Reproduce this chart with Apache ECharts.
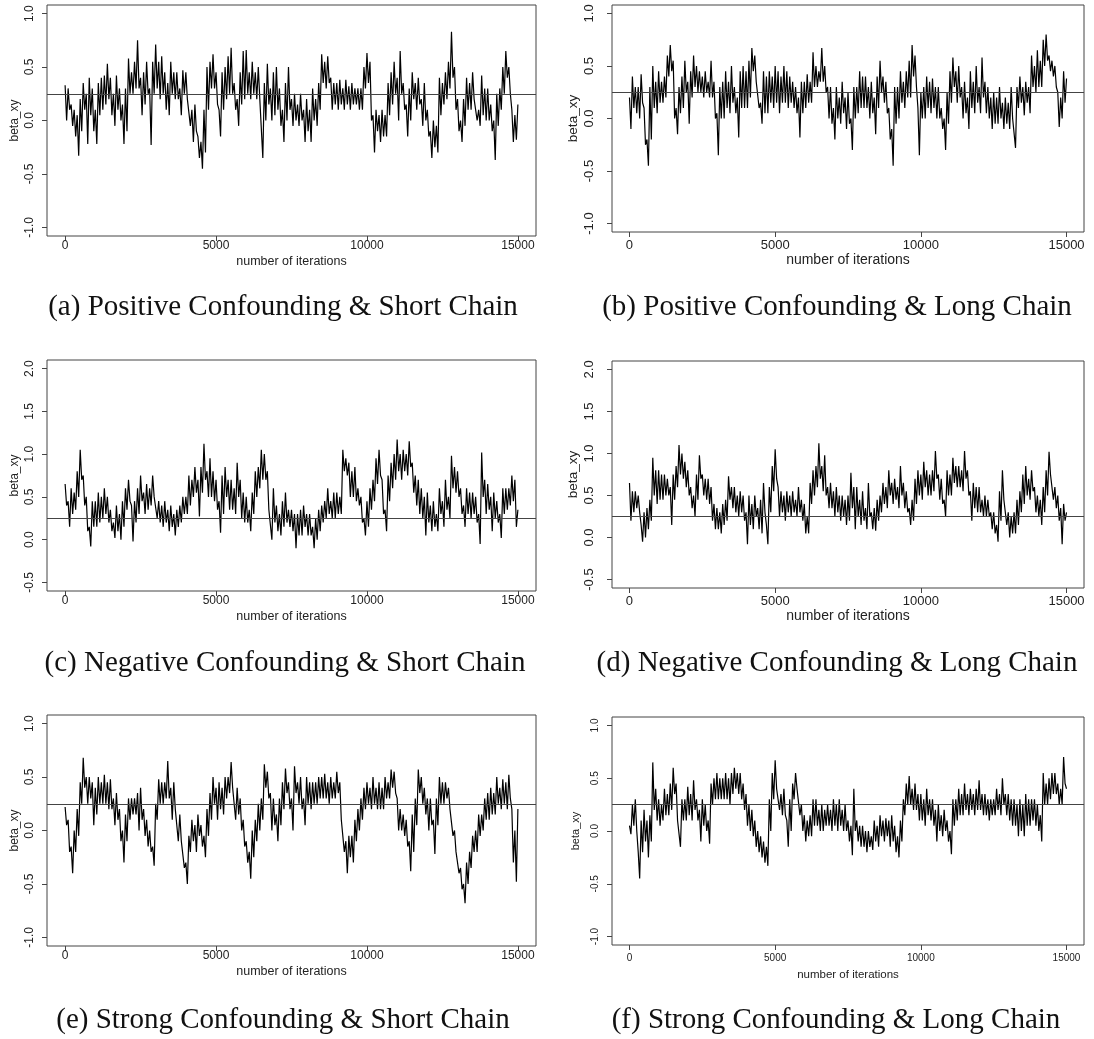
<!DOCTYPE html>
<html>
<head>
<meta charset="utf-8">
<title>beta_xy trace plots</title>
<script src="https://cdn.jsdelivr.net/npm/echarts@6/dist/echarts.min.js"></script>
<style>
  html, body { margin: 0; padding: 0; background: #fff; }
  #chart { width: 1094px; height: 1039px; }
</style>
</head>
<body>
<div id="chart"></div>
<script>
// each trace is stored as the top (hi) and bottom (lo) of the chain
// inside consecutive windows of STEP iterations
const STEP = 100
const xTicks = [0, 5000, 10000, 15000]
const yTicksNarrow = [-1, -0.5, 0, 0.5, 1]
const yTicksWide = [-0.5, 0, 0.5, 1, 1.5, 2]
const trueBeta = 0.25

const captions = [
  '(a) Positive Confounding & Short Chain',
  '(b) Positive Confounding & Long Chain',
  '(c) Negative Confounding & Short Chain',
  '(d) Negative Confounding & Long Chain',
  '(e) Strong Confounding & Short Chain',
  '(f) Strong Confounding & Long Chain'
]

// value at iteration 15000
const lastValues = [0.15, 0.38, 0.35, 0.3, 0.2, 0.4]

const hiA = [
  0.33, 0.3, 0.15, 0.1, 0.05, 0.2, 0.35, 0.25, 0.4, 0.3,
  0.1, 0.35, 0.4, 0.42, 0.53, 0.4, 0.25, 0.42, 0.3, 0.15,
  0.3, 0.58, 0.45, 0.55, 0.75, 0.4, 0.45, 0.55, 0.3, 0.55,
  0.71, 0.55, 0.6, 0.45, 0.35, 0.55, 0.45, 0.45, 0.3, 0.47,
  0.45, 0.2, 0.1, 0.15, -0.15, -0.2, 0.1, 0.5, 0.55, 0.62,
  0.45, 0.1, 0.45, 0.5, 0.6, 0.68, 0.35, 0.2, 0.45, 0.65,
  0.66, 0.45, 0.55, 0.45, 0.5, 0.2, 0.35, 0.53, 0.3, 0.45,
  0.5, 0.3, 0.1, 0.35, 0.5, 0.2, 0.25, 0.15, 0.25, 0.1,
  0.2, 0.1, 0.3, 0.2, 0.35, 0.62, 0.55, 0.6, 0.4, 0.35,
  0.35, 0.38, 0.3, 0.38, 0.32, 0.35, 0.3, 0.3, 0.3, 0.5,
  0.63, 0.55, 0.05, 0.1, 0.05, 0.1, 0.05, 0.35, 0.45, 0.55,
  0.4, 0.65, 0.35, 0.15, 0.3, 0.45, 0.35, 0.4, 0.2, 0.35,
  0.1, -0.1, 0.0, -0.05, 0.4, 0.35, 0.45, 0.55, 0.83, 0.5,
  0.2, 0.0, 0.2, 0.4, 0.35, 0.45, 0.2, 0.1, 0.42, 0.3,
  0.3, 0.15, 0.0, 0.25, 0.3, 0.5, 0.65, 0.5, 0.1, 0.05
]
const loA = [
  0.0, 0.1, -0.05, -0.15, -0.33, -0.1, 0.1, -0.22, 0.05, -0.1,
  -0.22, 0.05, 0.1, 0.15, 0.2, 0.05, -0.05, 0.1, 0.0, -0.22,
  -0.1, 0.25, 0.25, 0.3, 0.3, 0.05, 0.15, 0.25, -0.23, 0.25,
  0.3, 0.2, 0.25, 0.1, 0.05, 0.25, 0.2, 0.2, 0.05, 0.25,
  0.2, -0.05, -0.2, -0.1, -0.35, -0.45, -0.3, 0.1, 0.3, 0.3,
  0.15, -0.15, 0.1, 0.2, 0.25, 0.25, 0.1, -0.05, 0.15, 0.2,
  0.25, 0.2, 0.25, 0.2, 0.2, -0.35, 0.0, 0.15, 0.0, 0.05,
  0.1, -0.05, -0.2, 0.0, 0.1, -0.05, 0.0, -0.05, 0.0, -0.2,
  -0.1, -0.2, 0.0, -0.05, 0.1, 0.35, 0.3, 0.35, 0.1, 0.15,
  0.1, 0.15, 0.1, 0.15, 0.1, 0.15, 0.15, 0.1, 0.1, 0.3,
  0.35, 0.0, -0.3, -0.1, -0.2, -0.15, -0.15, 0.05, 0.15, 0.25,
  0.0, 0.25, 0.1, -0.15, 0.0, 0.2, 0.1, 0.15, -0.05, 0.0,
  -0.15, -0.35, -0.25, -0.3, 0.05, 0.15, 0.2, 0.3, 0.4, 0.1,
  -0.1, -0.2, -0.05, 0.1, 0.1, 0.2, 0.0, -0.05, 0.05, 0.0,
  0.0, -0.1, -0.37, -0.05, 0.1, 0.25, 0.4, 0.25, -0.2, -0.18
]

const hiB = [
  0.2, 0.4, 0.3, 0.3, 0.42, 0.1, -0.2, 0.3, 0.5, 0.35,
  0.45, 0.35, 0.4, 0.6, 0.7, 0.55, 0.1, 0.3, 0.4, 0.55,
  0.35, 0.45, 0.6, 0.5, 0.45, 0.4, 0.45, 0.35, 0.55, 0.35,
  0.05, 0.3, 0.35, 0.45, 0.35, 0.5, 0.3, 0.2, 0.45, 0.5,
  0.45, 0.55, 0.67, 0.6, 0.35, 0.15, 0.45, 0.4, 0.45, 0.4,
  0.5, 0.45, 0.4, 0.5, 0.45, 0.4, 0.35, 0.3, 0.2, 0.35,
  0.35, 0.42, 0.35, 0.63, 0.5, 0.45, 0.67, 0.5, 0.3, 0.3,
  0.1, 0.3, 0.2, 0.35, 0.2, 0.25, 0.0, 0.3, 0.3, 0.45,
  0.4, 0.4, 0.3, 0.35, 0.2, 0.4, 0.55, 0.4, 0.35, 0.1,
  -0.1, 0.3, 0.3, 0.45, 0.35, 0.45, 0.55, 0.7, 0.6, 0.1,
  0.25, 0.3, 0.4, 0.35, 0.38, 0.3, 0.3, 0.1, 0.0, 0.25,
  0.45, 0.58, 0.45, 0.5, 0.3, 0.35, 0.2, 0.45, 0.35, 0.5,
  0.3, 0.58, 0.35, 0.3, 0.2, 0.25, 0.2, 0.3, 0.15, 0.2,
  0.15, 0.3, 0.0, 0.3, 0.4, 0.3, 0.35, 0.3, 0.6, 0.5,
  0.65, 0.55, 0.75, 0.8, 0.6, 0.55, 0.5, 0.25, 0.2, 0.45
]
const loB = [
  -0.1, 0.1, 0.05, 0.0, 0.15, -0.25, -0.45, -0.2, 0.1, 0.05,
  0.15, 0.15, 0.2, 0.4, 0.45, 0.0, -0.15, 0.05, 0.1, 0.25,
  -0.05, 0.2, 0.3, 0.25, 0.25, 0.2, 0.25, 0.2, 0.2, 0.0,
  -0.35, 0.0, 0.0, 0.1, 0.05, 0.15, 0.05, -0.18, 0.1, 0.1,
  0.1, 0.2, 0.45, 0.35, 0.1, -0.05, 0.05, 0.05, 0.15, 0.1,
  0.15, 0.05, 0.15, 0.15, 0.1, 0.15, 0.1, 0.05, -0.18, 0.05,
  0.1, 0.15, 0.15, 0.3, 0.3, 0.35, 0.35, 0.25, 0.0, -0.05,
  -0.2, 0.0, -0.05, 0.05, -0.1, -0.05, -0.3, 0.0, 0.05, 0.1,
  0.1, 0.1, 0.0, 0.05, -0.15, 0.1, 0.25, 0.15, 0.05, -0.2,
  -0.45, -0.05, 0.0, 0.15, 0.1, 0.2, 0.2, 0.4, 0.3, -0.35,
  0.0, 0.0, 0.1, 0.05, 0.1, 0.0, 0.0, -0.1, -0.3, -0.05,
  0.15, 0.3, 0.15, 0.2, 0.0, 0.05, -0.1, 0.1, 0.05, 0.15,
  0.05, 0.2, 0.05, 0.0, -0.1, -0.05, -0.05, 0.0, -0.1, -0.05,
  -0.1, 0.0, -0.28, 0.1, 0.15, 0.03, 0.15, 0.05, 0.3, 0.25,
  0.3, 0.3, 0.5, 0.55, 0.45, 0.4, 0.3, -0.08, 0.0, 0.15
]

const hiC = [
  0.65, 0.45, 0.6, 0.55, 0.8, 1.05, 0.75, 0.5, 0.15, 0.45,
  0.45, 0.55, 0.5, 0.6, 0.5, 0.35, 0.2, 0.4, 0.3, 0.45,
  0.6, 0.7, 0.4, 0.45, 0.6, 0.75, 0.55, 0.65, 0.6, 0.75,
  0.5, 0.45, 0.4, 0.45, 0.35, 0.4, 0.3, 0.35, 0.4, 0.5,
  0.5, 0.75, 0.7, 0.85, 0.7, 0.85, 1.12, 0.8, 0.95, 0.8,
  0.7, 0.45, 0.75, 0.85, 0.7, 0.7, 0.6, 0.9, 0.7, 0.55,
  0.5, 0.35, 0.55, 0.8, 0.85, 1.05, 1.0, 0.8, 0.35, 0.6,
  0.4, 0.3, 0.45, 0.55, 0.35, 0.35, 0.3, 0.3, 0.35, 0.4,
  0.3, 0.3, 0.15, 0.25, 0.35, 0.4, 0.45, 0.6, 0.45, 0.55,
  0.55, 0.5, 1.05, 0.95, 0.9, 0.8, 0.85, 0.6, 0.5, 0.25,
  0.45, 0.6, 0.7, 0.95, 1.05, 0.7, 0.35, 0.75, 0.9, 1.0,
  1.17, 1.0, 1.05, 1.0, 1.15, 0.9, 0.75, 0.7, 0.6, 0.5,
  0.55, 0.4, 0.45, 0.3, 0.6, 0.45, 0.7, 0.5, 0.98, 0.85,
  0.8, 0.6, 0.4, 0.6, 0.55, 0.55, 0.5, 0.3, 1.02, 0.7,
  0.65, 0.5, 0.55, 0.45, 0.3, 0.6, 0.6, 0.6, 0.75, 0.7
]
const loC = [
  0.4, 0.15, 0.3, 0.35, 0.5, 0.7, 0.4, 0.1, -0.08, 0.15,
  0.15, 0.2, 0.25, 0.3, 0.2, 0.1, 0.02, 0.1, 0.0, 0.15,
  0.35, 0.45, -0.02, 0.2, 0.3, 0.45, 0.3, 0.35, 0.4, 0.5,
  0.25, 0.2, 0.15, 0.2, 0.1, 0.15, 0.05, 0.15, 0.2, 0.3,
  0.3, 0.4, 0.5, 0.55, 0.27, 0.55, 0.7, 0.5, 0.5, 0.45,
  0.35, 0.08, 0.3, 0.5, 0.35, 0.35, 0.3, 0.5, 0.25, 0.2,
  0.2, 0.1, 0.3, 0.5, 0.6, 0.7, 0.7, 0.35, 0.0, 0.2,
  0.1, 0.05, 0.15, 0.2, 0.15, 0.1, -0.1, 0.05, 0.05, 0.15,
  0.05, 0.05, -0.1, 0.0, 0.1, 0.2, 0.25, 0.3, 0.25, 0.25,
  0.3, 0.3, 0.8, 0.75, 0.5, 0.5, 0.45, 0.4, 0.2, 0.05,
  0.15, 0.35, 0.45, 0.65, 0.75, 0.3, 0.1, 0.45, 0.6, 0.7,
  0.8, 0.7, 0.8, 0.75, 0.85, 0.55, 0.4, 0.3, 0.25, 0.05,
  0.2, 0.1, 0.15, 0.1, 0.3, 0.15, 0.35, 0.25, 0.6, 0.55,
  0.5, 0.3, 0.15, 0.3, 0.25, 0.3, 0.2, -0.05, 0.5, 0.3,
  0.35, 0.1, 0.25, 0.2, 0.02, 0.3, 0.35, 0.4, 0.45, 0.15
]

const hiD = [
  0.65, 0.55, 0.55, 0.5, 0.15, 0.3, 0.35, 0.45, 0.95, 0.8,
  0.8, 0.75, 0.75, 0.7, 0.6, 0.75, 0.85, 1.1, 1.0, 0.9,
  0.8, 0.6, 0.5, 0.75, 0.98, 0.75, 0.7, 0.7, 0.6, 0.4,
  0.35, 0.3, 0.4, 0.45, 0.73, 0.6, 0.6, 0.5, 0.55, 0.5,
  0.3, 0.5, 0.4, 0.5, 0.35, 0.45, 0.65, 0.15, 0.6, 0.85,
  1.05, 0.6, 0.55, 0.5, 0.55, 0.5, 0.55, 0.45, 0.6, 0.45,
  0.4, 0.25, 0.65, 0.8, 0.85, 1.12, 0.85, 0.98, 0.6, 0.65,
  0.55, 0.6, 0.5, 0.5, 0.45, 0.5, 0.77, 0.6, 0.6, 0.45,
  0.55, 0.35, 0.65, 0.3, 0.35, 0.45, 0.5, 0.65, 0.6, 0.8,
  0.65, 0.7, 0.6, 0.85, 0.65, 0.55, 0.35, 0.45, 0.7, 0.8,
  0.75, 0.9, 0.8, 0.75, 0.8, 1.03, 0.75, 0.7, 0.45, 0.8,
  0.75, 0.95, 0.85, 0.85, 0.8, 1.03, 0.8, 0.55, 0.65, 0.6,
  0.6, 0.45, 0.5, 0.45, 0.3, 0.3, 0.15, 0.55, 0.8, 0.45,
  0.3, 0.25, 0.3, 0.45, 0.55, 0.75, 0.85, 0.7, 0.8, 0.6,
  0.5, 0.45, 0.6, 0.8, 1.02, 0.75, 0.6, 0.5, 0.35, 0.4
]
const loD = [
  0.2, 0.3, 0.35, 0.3, -0.05, 0.0, 0.1, 0.2, 0.5, 0.4,
  0.45, 0.45, 0.5, 0.5, 0.15, 0.45, 0.6, 0.75, 0.7, 0.6,
  0.5, 0.35, 0.25, 0.45, 0.7, 0.5, 0.45, 0.4, 0.2, 0.1,
  0.1, 0.05, 0.15, 0.2, 0.45, 0.35, 0.3, 0.25, 0.3, 0.2,
  -0.08, 0.15, 0.1, 0.25, 0.1, 0.05, 0.3, -0.08, 0.3, 0.55,
  0.7, 0.25, 0.3, 0.2, 0.3, 0.25, 0.3, 0.25, 0.3, 0.2,
  0.05, 0.05, 0.4, 0.5, 0.6, 0.7, 0.55, 0.5, 0.35, 0.35,
  0.25, 0.3, 0.2, 0.25, 0.15, 0.2, 0.35, 0.1, 0.25, 0.15,
  0.2, 0.1, 0.25, 0.1, 0.08, 0.2, 0.3, 0.4, 0.35, 0.5,
  0.4, 0.45, 0.35, 0.5, 0.35, 0.3, 0.15, 0.2, 0.4, 0.5,
  0.45, 0.6, 0.5, 0.5, 0.55, 0.7, 0.45, 0.4, 0.25, 0.5,
  0.5, 0.65, 0.6, 0.6, 0.55, 0.7, 0.5, 0.2, 0.35, 0.3,
  0.3, 0.25, 0.25, 0.25, 0.1, 0.05, -0.05, 0.2, 0.45, 0.15,
  0.0, 0.05, 0.05, 0.15, 0.3, 0.4, 0.5, 0.45, 0.55, 0.3,
  0.25, 0.15, 0.3, 0.5, 0.75, 0.45, 0.35, 0.2, -0.08, 0.2
]

const hiE = [
  0.22, 0.1, -0.15, 0.0, 0.2, 0.45, 0.68, 0.5, 0.5, 0.45,
  0.4, 0.5, 0.45, 0.52, 0.45, 0.48, 0.3, 0.35, 0.2, 0.0,
  0.15, 0.3, 0.3, 0.3, 0.35, 0.4, 0.2, 0.1, 0.0, -0.15,
  0.25, 0.48, 0.45, 0.45, 0.65, 0.4, 0.45, 0.2, 0.15, -0.1,
  -0.3, -0.05, 0.1, 0.05, 0.15, 0.05, -0.05, 0.2, 0.35, 0.5,
  0.4, 0.45, 0.4, 0.5, 0.5, 0.64, 0.4, 0.4, 0.3, 0.1,
  -0.1, -0.2, 0.0, 0.1, 0.25, 0.3, 0.62, 0.55, 0.35, 0.3,
  0.15, 0.3, 0.45, 0.58, 0.45, 0.3, 0.6, 0.45, 0.5, 0.3,
  0.5, 0.45, 0.45, 0.45, 0.5, 0.5, 0.53, 0.45, 0.5, 0.45,
  0.55, 0.45, 0.1, -0.1, -0.05, -0.05, 0.1, 0.2, 0.3, 0.4,
  0.45, 0.4, 0.5, 0.4, 0.45, 0.4, 0.5, 0.45, 0.57, 0.55,
  0.3, 0.2, 0.15, 0.1, -0.1, 0.15, 0.3, 0.57, 0.5, 0.4,
  0.3, 0.3, 0.1, 0.3, 0.5, 0.45, 0.45, 0.4, 0.2, 0.0,
  -0.2, -0.35, -0.5, -0.3, -0.2, -0.05, 0.0, 0.15, 0.15, 0.3,
  0.35, 0.4, 0.35, 0.5, 0.4, 0.48, 0.45, 0.52, 0.2, 0.0
]
const loE = [
  0.05, -0.2, -0.4, -0.2, -0.05, 0.25, 0.4, 0.25, 0.3, 0.05,
  0.15, 0.25, 0.25, 0.25, 0.2, 0.2, 0.05, 0.1, -0.1, -0.3,
  -0.1, 0.1, 0.15, 0.15, 0.0, 0.1, -0.05, -0.15, -0.2, -0.33,
  0.1, 0.25, 0.25, 0.3, 0.3, 0.1, 0.2, -0.1, -0.1, -0.35,
  -0.5, -0.2, -0.1, -0.2, -0.05, -0.15, -0.25, -0.05, 0.1, 0.25,
  0.1, 0.2, 0.15, 0.3, 0.35, 0.4, 0.1, 0.15, 0.0, -0.15,
  -0.3, -0.45, -0.25, -0.1, 0.0, 0.1, 0.4, 0.3, 0.0, 0.05,
  -0.1, 0.05, 0.2, 0.35, 0.2, 0.0, 0.35, 0.25, 0.2, 0.05,
  0.25, 0.2, 0.25, 0.25, 0.3, 0.3, 0.3, 0.25, 0.3, 0.3,
  0.35, 0.1, -0.2, -0.4, -0.25, -0.3, -0.1, 0.0, 0.1, 0.2,
  0.25, 0.2, 0.25, 0.2, 0.2, 0.2, 0.3, 0.3, 0.4, 0.35,
  0.0, 0.0, -0.05, -0.15, -0.38, -0.2, 0.05, 0.35, 0.25, 0.15,
  0.0, 0.05, -0.22, 0.05, 0.25, 0.25, 0.3, 0.2, -0.05, -0.2,
  -0.4, -0.55, -0.68, -0.5, -0.35, -0.2, -0.2, -0.05, 0.0, 0.1,
  0.1, 0.15, 0.15, 0.25, 0.2, 0.25, 0.2, 0.3, -0.3, -0.48
]

const hiF = [
  0.05, 0.25, 0.3, -0.2, 0.1, 0.2, 0.1, 0.15, 0.65, 0.4,
  0.3, 0.25, 0.4, 0.35, 0.45, 0.6, 0.45, 0.1, 0.3, 0.3,
  0.42, 0.35, 0.48, 0.3, 0.2, 0.3, 0.25, 0.1, 0.45, 0.5,
  0.55, 0.5, 0.5, 0.55, 0.5, 0.55, 0.6, 0.55, 0.55, 0.45,
  0.35, 0.25, 0.2, 0.1, 0.0, -0.05, -0.1, -0.15, 0.3, 0.55,
  0.67, 0.4, 0.35, 0.4, 0.1, 0.3, 0.45, 0.55, 0.4, 0.25,
  0.15, 0.1, 0.15, 0.3, 0.3, 0.2, 0.25, 0.2, 0.25, 0.2,
  0.3, 0.25, 0.3, 0.2, 0.25, 0.1, 0.05, 0.4, 0.1, 0.05,
  0.05, 0.0, 0.0, -0.05, 0.1, 0.05, 0.15, 0.1, 0.12, 0.1,
  0.15, 0.05, -0.05, 0.1, 0.3, 0.45, 0.52, 0.4, 0.45, 0.35,
  0.35, 0.3, 0.4, 0.3, 0.3, 0.2, 0.25, 0.15, 0.2, 0.1,
  0.0, 0.3, 0.3, 0.4, 0.35, 0.45, 0.35, 0.4, 0.35, 0.4,
  0.48, 0.35, 0.35, 0.3, 0.3, 0.3, 0.4, 0.35, 0.5, 0.35,
  0.35, 0.3, 0.3, 0.25, 0.3, 0.25, 0.35, 0.3, 0.3, 0.3,
  0.25, 0.15, 0.55, 0.45, 0.5, 0.55, 0.55, 0.45, 0.4, 0.7
]
const loF = [
  -0.03, 0.05, 0.0, -0.45, -0.2, -0.1, -0.25, -0.1, 0.2, 0.1,
  0.05, 0.1, 0.15, 0.15, 0.2, 0.35, 0.1, -0.15, 0.1, 0.1,
  0.15, 0.1, 0.2, 0.1, -0.1, 0.05, 0.0, -0.12, 0.25, 0.3,
  0.3, 0.3, 0.3, 0.3, 0.25, 0.35, 0.4, 0.35, 0.3, 0.2,
  0.05, 0.0, -0.05, -0.15, -0.2, -0.25, -0.3, -0.33, 0.0, 0.3,
  0.4, 0.2, 0.15, 0.15, -0.15, 0.0, 0.3, 0.4, 0.15, 0.0,
  -0.1, -0.05, -0.05, 0.05, 0.05, 0.0, 0.0, 0.05, 0.05, 0.0,
  0.05, 0.0, 0.05, 0.0, 0.0, -0.1, -0.23, 0.0, -0.1, -0.15,
  -0.15, -0.2, -0.15, -0.18, -0.1, -0.15, -0.05, -0.1, -0.05, -0.15,
  -0.1, -0.2, -0.25, -0.1, 0.15, 0.25, 0.25, 0.2, 0.2, 0.1,
  0.1, 0.05, 0.15, 0.1, 0.05, -0.1, 0.0, -0.05, 0.0, -0.1,
  -0.22, 0.05, 0.1, 0.15, 0.15, 0.2, 0.15, 0.2, 0.15, 0.2,
  0.2, 0.15, 0.15, 0.1, 0.15, 0.15, 0.2, 0.15, 0.25, 0.15,
  0.1, 0.05, 0.05, -0.05, 0.0, -0.05, 0.05, 0.05, 0.1, 0.05,
  0.0, -0.1, 0.25, 0.25, 0.3, 0.35, 0.35, 0.25, 0.25, 0.45
]

// layout of the six panels (pixel boxes of the plot regions)
const panels = [
  { hi: hiA, lo: loA, yTicks: yTicksNarrow, yMin: -1.08, yMax: 1.08, box: [47, 5, 489, 231], capX: 283, capY: 307, fs: 12, nfs: 12.5, xMargin: 4, yMargin: 11, xGap: 19, yGap: 26 },
  { hi: hiB, lo: loB, yTicks: yTicksNarrow, yMin: -1.08, yMax: 1.08, box: [612, 5, 472, 227], capX: 837, capY: 307, fs: 13, nfs: 14, xMargin: 7, yMargin: 16, xGap: 20, yGap: 32 },
  { hi: hiC, lo: loC, yTicks: yTicksWide, yMin: -0.6, yMax: 2.1, box: [47, 360, 489, 231], capX: 285, capY: 663, fs: 12, nfs: 12.5, xMargin: 4, yMargin: 11, xGap: 19, yGap: 26 },
  { hi: hiD, lo: loD, yTicks: yTicksWide, yMin: -0.6, yMax: 2.1, box: [612, 361, 472, 227], capX: 837, capY: 663, fs: 13, nfs: 14, xMargin: 7, yMargin: 16, xGap: 20, yGap: 32 },
  { hi: hiE, lo: loE, yTicks: yTicksNarrow, yMin: -1.08, yMax: 1.08, box: [47, 715, 489, 231], capX: 283, capY: 1020, fs: 12, nfs: 12.5, xMargin: 4, yMargin: 11, xGap: 19, yGap: 26 },
  { hi: hiF, lo: loF, yTicks: yTicksNarrow, yMin: -1.08, yMax: 1.08, box: [612, 717, 472, 228], capX: 836, capY: 1020, fs: 10, nfs: 11.5, xMargin: 8, yMargin: 12, xGap: 24, yGap: 31 }
]

const AXIS_FONT = 'Liberation Sans, Arial, sans-serif'
const BOX_COLOR = '#444'
const TEXT_COLOR = '#222'

// hi then lo inside every window, then the final draw
function traceData(hi, lo, last) {
  const pts = []
  hi.forEach((v, k) => {
    pts.push([k * STEP, v])
    pts.push([k * STEP + STEP / 2, lo[k]])
  })
  pts.push([hi.length * STEP, last])
  return pts
}

const chart = echarts.init(document.getElementById('chart'), null, { renderer: 'canvas' })

const grids = []
const xAxes = []
const yAxes = []
const series = []
const graphics = []

panels.forEach((p, i) => {
  grids.push({
    left: p.box[0], top: p.box[1], width: p.box[2], height: p.box[3],
    show: true, borderColor: BOX_COLOR, borderWidth: 1, backgroundColor: 'transparent'
  })

  xAxes.push({
    gridIndex: i, type: 'value', min: -600, max: 15600,
    axisLine: { show: false, onZero: false },
    axisTick: { show: true, customValues: xTicks, length: 5, lineStyle: { color: BOX_COLOR } },
    axisLabel: {
      customValues: xTicks, margin: p.xMargin, fontSize: p.fs, color: TEXT_COLOR,
      fontFamily: AXIS_FONT, formatter: v => String(v)
    },
    splitLine: { show: false },
    name: 'number of iterations', nameLocation: 'middle', nameGap: p.xGap,
    nameTextStyle: { fontSize: p.nfs, color: TEXT_COLOR, fontFamily: AXIS_FONT }
  })

  yAxes.push({
    gridIndex: i, type: 'value', min: p.yMin, max: p.yMax,
    axisLine: { show: false, onZero: false },
    axisTick: { show: true, customValues: p.yTicks, length: 5, lineStyle: { color: BOX_COLOR } },
    axisLabel: {
      customValues: p.yTicks, rotate: 90, margin: p.yMargin, fontSize: p.fs,
      color: TEXT_COLOR, fontFamily: AXIS_FONT,
      formatter: v => v.toFixed(1)
    },
    splitLine: { show: false },
    name: 'beta_xy', nameLocation: 'middle', nameGap: p.yGap, nameRotate: 90,
    nameTextStyle: { fontSize: p.nfs - 0.5, color: TEXT_COLOR, fontFamily: AXIS_FONT }
  })

  series.push({
    type: 'line',
    xAxisIndex: i, yAxisIndex: i,
    data: traceData(p.hi, p.lo, lastValues[i]),
    showSymbol: false,
    lineStyle: { color: '#000', width: 1.2 },
    clip: true,
    markLine: {
      silent: true,
      symbol: ['none', 'none'],
      label: { show: false },
      lineStyle: { color: BOX_COLOR, width: 1, type: 'solid' },
      data: [{ yAxis: trueBeta }]
    }
  })

  graphics.push({
    type: 'text', x: p.capX, y: p.capY,
    style: {
      text: captions[i],
      fontFamily: 'Liberation Serif, Times New Roman, serif',
      fontSize: 29,
      fill: '#111',
      align: 'center',
      verticalAlign: 'middle'
    }
  })
})

chart.setOption({
  backgroundColor: '#fff',
  animation: false,
  grid: grids,
  xAxis: xAxes,
  yAxis: yAxes,
  series: series,
  graphic: graphics
})
</script>
</body>
</html>
